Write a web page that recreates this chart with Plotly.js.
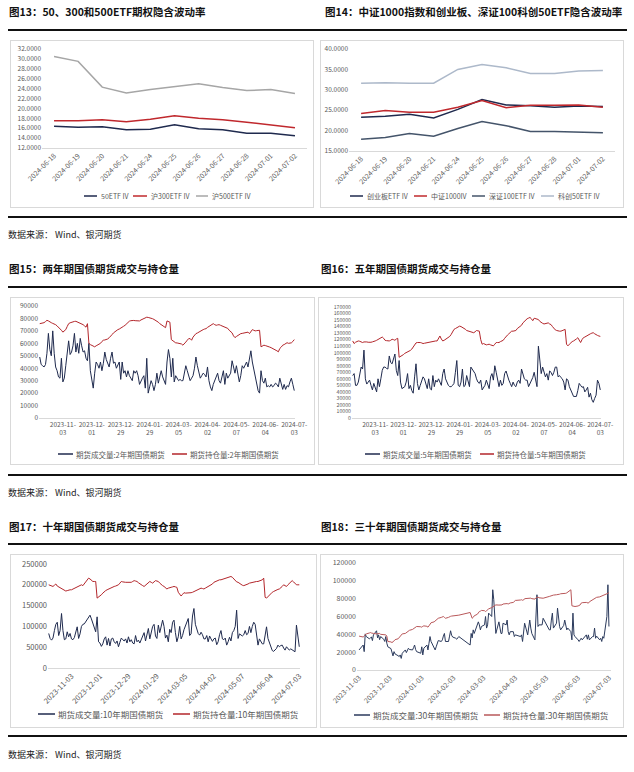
<!DOCTYPE html>
<html>
<head>
<meta charset="utf-8">
<script src="https://cdn.plot.ly/plotly-2.35.2.min.js"></script>
<style>
  html, body { margin:0; padding:0; background:#fff; }
  body { width:634px; height:772px; position:relative; overflow:hidden; font-family:"Noto Sans CJK SC","Noto Sans",sans-serif; }
  .ttl { position:absolute; font-size:10.5px; font-weight:bold; color:#111; white-space:nowrap; line-height:1; }
  .rule { position:absolute; height:1.5px; background:#111; }
  .src { position:absolute; font-size:9px; color:#222; white-space:nowrap; line-height:1; }
  .box { position:absolute; border:1px solid #d9d9d9; box-sizing:border-box; background:#fff; }
</style>
</head>
<body>
<div class="ttl" style="left:9px;top:7px;">图13：50、300和500ETF期权隐含波动率</div>
<div class="ttl" style="left:325px;top:7px;">图14：中证1000指数和创业板、深证100科创50ETF隐含波动率</div>
<div class="rule" style="left:8px;top:29px;width:619px;"></div>
<div class="box" id="c13"></div>
<div class="box" id="c14"></div>
<div class="rule" style="left:8px;top:216px;width:619px;"></div>
<div class="src" style="left:8px;top:230px;">数据来源：&nbsp;Wind、银河期货</div>

<div class="ttl" style="left:9px;top:264px;">图15：两年期国债期货成交与持仓量</div>
<div class="ttl" style="left:321px;top:264px;">图16：五年期国债期货成交与持仓量</div>
<div class="rule" style="left:8px;top:286px;width:619px;"></div>
<div class="box" id="c15"></div>
<div class="box" id="c16"></div>
<div class="rule" style="left:8px;top:474px;width:619px;"></div>
<div class="src" style="left:8px;top:488px;">数据来源：&nbsp;Wind、银河期货</div>

<div class="ttl" style="left:9px;top:522px;">图17：十年期国债期货成交与持仓量</div>
<div class="ttl" style="left:321px;top:522px;">图18：三十年期国债期货成交与持仓量</div>
<div class="rule" style="left:8px;top:543px;width:619px;"></div>
<div class="box" id="c17"></div>
<div class="box" id="c18"></div>
<div class="rule" style="left:8px;top:735px;width:619px;"></div>
<div class="src" style="left:8px;top:750px;">数据来源：&nbsp;Wind、银河期货</div>

<script>
// ---------- data: implied volatility ----------
const ivDates = ['2024-06-18','2024-06-19','2024-06-20','2024-06-21','2024-06-24','2024-06-25','2024-06-26','2024-06-27','2024-06-28','2024-07-01','2024-07-02'];
const iv50 = [16.4,16.2,16.3,15.7,15.8,16.7,15.9,15.7,15.0,15.0,14.5];
const iv300 = [17.5,17.5,17.7,17.3,17.8,18.5,18.0,17.7,17.2,16.6,16.1];
const iv500 = [30.5,29.5,24.3,23.1,23.8,24.4,25.0,24.2,23.6,23.8,23.0];
const ivCyb = [23.3,23.5,24.0,23.1,25.2,27.6,26.3,26.1,25.7,26.0,25.9];
const ivZz1000 = [24.2,24.9,24.5,24.5,25.7,27.4,25.6,26.2,26.2,26.3,25.7];
const ivSz100 = [17.9,18.3,19.3,18.6,20.5,22.2,21.2,19.8,19.8,19.7,19.5];
const ivKc50 = [31.6,31.7,31.6,31.6,35.0,36.2,35.4,34.0,34.0,34.6,34.7];

// ---------- data: trading calendar ----------
const startLong = '2023-10-12';
const start30 = '2023-11-03';
const endDate = '2024-07-03';
const holidays = ['2024-01-01','2024-02-09','2024-02-12','2024-02-13','2024-02-14','2024-02-15','2024-02-16','2024-04-04','2024-04-05','2024-05-01','2024-05-02','2024-05-03','2024-06-10'];
const tickDatesCat = ['2023-11-03','2023-12-01','2023-12-29','2024-01-29','2024-03-05','2024-04-02','2024-05-07','2024-06-04','2024-07-03'];
const tickDates30 = ['2023-11-03','2023-12-03','2024-01-03','2024-02-03','2024-03-03','2024-04-03','2024-05-03','2024-06-03','2024-07-03'];

// ---------- data: volumes / open interest (thousand lots) ----------
const vol2k = [49,43,42,41,43,52,68,55,50,70,52,41,38,33,32,48,29,32,42,51,
62,51,53,58,68,53,60,52,64,58,53,54,48,46,60,38,30,24,36,45,
43,40,45,38,44,53,47,44,41,48,53,44,45,40,43,45,31,45,36,38,
33,38,34,32,30,38,36,38,34,27,30,32,34,24,48,20,25,30,27,22,
27,36,28,33,38,33,30,27,45,55,48,33,48,29,34,32,30,31,30,30,
36,42,38,33,30,32,34,40,49,42,36,32,34,36,35,33,41,30,25,22,
27,30,34,36,30,28,33,38,27,36,32,34,36,46,42,36,42,35,29,34,
42,40,43,45,41,47,54,45,39,36,27,22,20,38,30,28,32,25,26,25,
27,25,26,28,27,25,32,28,23,27,23,26,25,29,32,27,22];
const oi2k = [75.8,76,76.3,76.6,77.5,78.5,78,77,76.6,76,75.8,75,74,73,71.5,70.5,69,70,71,73.5,
75.8,76.5,77,77.3,77.6,77.7,77.2,76.6,76.2,75.8,75,74,73,75.8,60,59,58.5,57.5,57.2,58,
58.5,59.5,60,61.5,62.5,62.7,63,63.5,64.5,65.5,67,68.4,69.5,70.5,71,71.5,72.5,73.2,73.7,74.5,
75.8,76.8,77.8,78.2,78.5,78.4,78.2,78,78,78,78.8,79.5,80,80.6,81,80.8,80.6,80.2,79.8,79.2,
78.5,78,77,75.8,75,74.5,73.5,72.6,78,77.5,77,63,62,61,60.4,60.3,60.2,60,59.5,58.5,
59.5,61,62.5,63.8,63.8,62.5,65,66.5,67.8,68.3,69,70,71,71,71.5,71.8,72.8,73.7,74.5,75,
75.8,75,74.5,74.8,75,74.5,74,73.7,73,72.6,72,70.5,69.5,68.4,66,64.6,65.5,66.5,67,67.8,
68,68.4,68.8,69,69,67.8,69,71,70.5,70,70.2,70.5,70.5,57.2,57.8,58.5,58.2,58,57.7,57,
56.5,56,55.5,54.5,54,53.2,55.9,57,58.5,59,60,60.5,60,60,60.4,61.5,63];

const vol5k = [65,68,50,50,55,70,78,75,104,60,52,55,58,50,43,53,45,40,60,48,
60,73,78,78,76,75,95,85,83,90,98,73,65,88,55,45,46,48,55,68,
45,50,42,38,63,83,53,43,50,58,63,60,50,45,60,45,43,65,48,58,
55,60,55,50,68,75,60,55,50,48,48,50,53,70,88,50,48,55,75,48,
50,65,55,48,78,75,72,68,60,55,53,58,43,46,50,58,50,45,63,68,
58,80,70,58,48,58,50,53,68,72,63,58,53,48,55,50,48,55,58,53,
75,68,60,58,58,48,53,57,62,70,60,48,110,93,68,78,70,63,68,58,
72,70,65,70,78,78,63,65,62,60,55,43,60,58,48,43,38,33,33,33,
42,53,50,47,48,40,43,47,32,38,28,24,30,35,58,53,43];
const oi5k = [118,114,116,117,118,117.5,116.5,115.6,116.5,117,116.5,116,115.6,116,116.6,117,118,119,120.6,122,
123,124,122,119,118.5,118,118,119,120.6,120,119,121,122,93,94,95.5,97,99,100,101,
102,103.5,105.5,109,113,115,115.6,116,115.6,115,114,114.5,115,115.6,116.5,117,117.5,118,118,118,
118,121,125.6,121,118,119,120.6,122,123,125,128,132,135.7,137,138,139.5,140.7,140,139,138,
136,134,133.5,133,132,131,130.6,132,134,133.5,133,120,113,114,113,112,112.5,113,112,111,
110.5,113,115.6,115.6,115.6,117,118,119,122,125.6,127,129,131,133,133,133.5,134,137,139,140.7,
142,145.7,148,150.8,152,153,154,152,149,152.8,152,151,150.8,148,145.7,145,144,144.5,145,145.7,
144,143,140,137,135,134,133,133,133,134,135,135.7,113,110.5,113,115.6,117,118,119,121,
123,119,115.6,120,123,124,125.6,126.5,128,129,130,130.6,129,127,126.5,125.6,125];

const vol10k = [83,71,67,72,90,105,110,78,90,131,90,68,70,87,75,83,70,68,73,85,
99,71,82,100,105,106,112,115,123,127,118,108,98,87,123,63,60,52,58,70,
75,55,71,53,70,72,63,59,65,51,62,72,68,65,70,60,75,63,68,60,
58,78,63,67,60,70,80,85,65,79,95,70,85,100,105,77,71,103,85,100,
115,100,72,79,63,93,85,110,115,85,63,75,100,70,78,92,100,107,119,78,
82,125,143,105,91,83,79,86,80,70,70,78,63,77,70,64,70,72,56,63,
80,90,70,68,72,55,63,74,65,85,90,100,139,71,82,80,77,80,90,80,
83,100,85,100,110,105,79,55,70,65,58,58,75,99,71,60,53,42,40,44,
47,55,51,54,55,48,43,51,47,43,46,43,40,39,103,80,51];
const oi10k = [200,198,197,196,199,202,197,195,192,190,188,186,185,186,188,188,188,190,192,193,
195,196,198,200,198,203,208,212,216,214,211,208,208,208,168,170,172,176,180,184,
186,188,190,192,194,195,196,197,198,200,204,208,207,206,206,206,206,206,206,208,
210,209,208,205,202,200,198,196,199,202,205,208,206,204,207,210,209,208,204,200,
198,196,193,190,192,194,194,195,196,195,194,182,176,173,177,181,180,180,180,181,
181,182,184,186,188,190,192,192,191,190,192,194,196,197,198,202,206,208,210,211,
212,212,213,214,215,216,218,219,220,218,214,210,207,206,203,200,199,198,199,200,
202,204,205,206,207,208,208,208,209,210,212,216,170,168,172,176,180,182,184,186,
188,189,190,192,196,200,198,196,200,204,208,210,207,204,200,200,200];

const vol30k = [22.5,26,28,20.6,40.5,37.5,35,36,37,33,39.4,44,36,39.4,34,37.5,34.5,32,37.5,30,
26,24,20.6,15.8,20.6,18,16,15,16.9,13,18.8,22.5,19.5,22.5,24.4,23,22.5,25,28,23,
20.6,18.8,26,16.9,24.4,28,22.5,30,37.5,32,26,22.5,26,30,33,32,33.8,38,41,32,
32,38,44,39,37,35.6,34.5,36,37.5,28,41,36,45,41,50,54,50.6,45,48.8,50.6,
60,47,50.6,63.8,60,90,78.8,50.6,41,54,48.8,41,41,52.5,50.6,56,43,39.4,43,43,
37.5,39.4,37.5,39.4,32,41,52.5,39.4,50.6,56,47,41,33.8,63.8,84.4,48.8,50.6,50.6,58,45,
45,56,63.8,47,52.5,69.4,56,48.8,45,50,56,50.6,45,47,43,33.8,63.8,39.4,37.5,33.8,
32,33.8,35.6,33.8,39.4,34.5,39.4,33.8,37.5,37.5,47,35.6,38,33.8,35.6,32,37.5,35.6,60,95.6,48.8];
const oi30k = [38,37.5,37,38,40,40.5,41.5,42,41.5,41,41,40.5,40.5,41,41,40,39.4,39.4,39.4,38,
32,31.5,30.8,31.5,33,34,35,36.5,38.5,39.5,40.5,41,42,43,43.8,44.5,45.5,46.5,47,48,
48.8,48.5,48,49,49.5,49,48,49.5,52,53,54,55,55.5,57,58,59,59.5,60,59,58,
59,60,60.2,60.5,60.6,60.8,61,61.2,61.5,64.5,61,58,59,60.8,62.5,64.5,65.6,66,66.8,66.5,
65.6,66.5,67.5,68.5,70,71,72,73,73,72.8,72.8,73,73,74,75,74.5,74,74.5,75.2,75.8,
77,78,78.5,78.8,78.2,78.5,80,80.6,80.6,80.6,80.6,80,79.5,81,81.8,81.8,81,80,80.5,82.5,
83,83,83.5,84,84.4,84.4,84.5,85,85.5,85.5,85.5,86,86.5,87.5,90,72,71.5,71,71.2,71.8,
72,73,75,75.5,75.8,75.5,75,76.5,78.5,79.5,80.5,81,81.5,82,82.5,83,83.5,84.2,85,86,87];

// ---------- helpers ----------
function tradingDays(s, e) {
  const out = [];
  const d = new Date(s + 'T00:00:00Z');
  const end = new Date(e + 'T00:00:00Z');
  while (d <= end) {
    const wd = d.getUTCDay();
    const iso = d.toISOString().slice(0, 10);
    if (wd !== 0 && wd !== 6 && holidays.indexOf(iso) < 0) out.push(iso);
    d.setUTCDate(d.getUTCDate() + 1);
  }
  return out;
}
const k = a => a.map(v => v * 1000);
const datesLong = tradingDays(startLong, endDate);
const dates30 = tradingDays(start30, endDate);

const FONT = '"Noto Sans CJK SC","Noto Sans",sans-serif';
const TXT = '#595959';
const NAVY = '#1f2a4e';
const RED = '#b3262b';
const cfg = {displayModeBar:false, staticPlot:true};

function line(x, y, name, color, width) {
  return {type:'scatter', mode:'lines', x:x, y:y, name:name, line:{color:color, width:width}, hoverinfo:'skip'};
}

// spec: box (page px), margins, axes, legend entries (page px: line start/end, text start), legend y, font sizes
function chart(id, spec, traces) {
  const el = document.getElementById(id);
  const b = spec.box;
  Object.assign(el.style, {left:b[0]+'px', top:b[1]+'px', width:b[2]+'px', height:b[3]+'px'});
  const W = b[2] - 2, H = b[3] - 2;
  const [ml, mr, mt, mb] = spec.m;
  const pw = W - ml - mr, ph = H - mt - mb;
  const px = x => (x - b[0] - 1 - ml) / pw;
  const py = y => (H - mb - (y - b[1] - 1)) / ph;
  const shapes = [], ann = [];
  spec.leg.forEach((e, i) => {
    const yy = py(spec.legY);
    shapes.push({type:'line', xref:'paper', yref:'paper', x0:px(e[0]), x1:px(e[1]), y0:yy, y1:yy,
                 line:{color:traces[i].line.color, width:Math.max(1.5, traces[i].line.width)}});
    ann.push({xref:'paper', yref:'paper', x:px(e[2]), y:yy, xanchor:'left', yanchor:'middle',
              showarrow:false, text:traces[i].name, font:{family:FONT, size:spec.legFont, color:TXT}});
  });
  const layout = {
    width:W, height:H,
    margin:{l:ml, r:mr, t:mt, b:mb, pad:0},
    paper_bgcolor:'rgba(0,0,0,0)', plot_bgcolor:'rgba(0,0,0,0)',
    font:{family:FONT, size:7, color:TXT},
    showlegend:false,
    shapes:shapes, annotations:ann,
    xaxis:Object.assign({showgrid:false, zeroline:false, showline:true, linecolor:'#d9d9d9', linewidth:1,
      ticks:'', tickfont:{family:FONT, size:spec.xFont, color:TXT}, automargin:false, fixedrange:true}, spec.xa),
    yaxis:Object.assign({showgrid:false, zeroline:false, showline:false, ticks:'',
      tickfont:{family:FONT, size:spec.yFont, color:TXT}, automargin:false, fixedrange:true}, spec.ya)
  };
  Plotly.newPlot(el, traces, layout, cfg);
}

// ---------- 图13 ----------
chart('c13', {box:[10,40,304,168], m:[31,6,8,59], xFont:7, yFont:6.5, legFont:7, legY:196,
  leg:[[84,97,99],[133,147,149],[196,208,210]],
  xa:{type:'category', range:[-0.5, 10.5], tickangle:-45},
  ya:{range:[12, 32], dtick:2, tickformat:'.4f'}}, [
  line(ivDates, iv50, '50ETF IV', NAVY, 1.5),
  line(ivDates, iv300, '沪300ETF IV', '#c0282d', 1.5),
  line(ivDates, iv500, '沪500ETF IV', '#a6a6a6', 1.5)
]);

// ---------- 图14 ----------
chart('c14', {box:[320,40,304,168], m:[28,8,8,56], xFont:7, yFont:6.5, legFont:7, legY:196,
  leg:[[350,363,365],[414,427,429],[472,485,487],[541,554,556]],
  xa:{type:'category', range:[-0.5, 10.5], tickangle:-45},
  ya:{range:[15, 40], dtick:5, tickformat:'.4f'}}, [
  line(ivDates, ivCyb, '创业板ETF IV', NAVY, 1.5),
  line(ivDates, ivZz1000, '中证1000IV', '#c0282d', 1.5),
  line(ivDates, ivSz100, '深证100ETF IV', '#44546a', 1.5),
  line(ivDates, ivKc50, '科创50ETF IV', '#adb9ca', 1.5)
]);

// ---------- 图15 / 16 / 17 (category axis of trading days) ----------
const wrapText = tickDatesCat.map(d => d.slice(0, 8) + '<br>' + d.slice(8));
function catX(extra) {
  return Object.assign({type:'category', range:[-0.5, datesLong.length - 0.5],
    tickmode:'array', tickvals:tickDatesCat}, extra);
}
chart('c15', {box:[10,297,305,168], m:[28,19,8,46], xFont:6.5, yFont:6.5, legFont:7.5, legY:454,
  leg:[[58,73,74],[172,187,188]],
  xa:catX({ticktext:wrapText, tickangle:0}),
  ya:{range:[0, 90000], dtick:10000, tickformat:'d'}}, [
  line(datesLong, k(vol2k), '期货成交量:2年期国债期货', NAVY, 1),
  line(datesLong, k(oi2k), '期货持仓量:2年期国债期货', RED, 1)
]);

chart('c16', {box:[318,297,306,168], m:[33,22,9,46], xFont:6.5, yFont:5.2, legFont:7.5, legY:454,
  leg:[[365,380,381],[480,494,495]],
  xa:catX({ticktext:wrapText, tickangle:0}),
  ya:{range:[0, 170000], dtick:10000, tickformat:'d'}}, [
  line(datesLong, k(vol5k), '期货成交量:5年期国债期货', NAVY, 1),
  line(datesLong, k(oi5k), '期货持仓量:5年期国债期货', RED, 1)
]);

chart('c17', {box:[10,554,307,174], m:[37,16,9,59], xFont:7.5, yFont:7.5, legFont:8.5, legY:714,
  leg:[[38,55,56],[173,190,191]],
  xa:catX({ticktext:tickDatesCat, tickangle:-45}),
  ya:{range:[0, 250000], dtick:50000, tickformat:'d'}}, [
  line(datesLong, k(vol10k), '期货成交量:10年期国债期货', NAVY, 1),
  line(datesLong, k(oi10k), '期货持仓量:10年期国债期货', RED, 1)
]);

// ---------- 图18 (date axis) ----------
chart('c18', {box:[320,554,304,174], m:[36,12,8,57], xFont:7, yFont:7, legFont:8.5, legY:715,
  leg:[[354,370,371],[484,500,501]],
  xa:{type:'date', range:['2023-11-01', '2024-07-05'], tickmode:'array', tickvals:tickDates30,
      ticktext:tickDates30, tickangle:-45},
  ya:{range:[0, 120000], dtick:20000, tickformat:'d'}}, [
  line(dates30, k(vol30k), '期货成交量:30年期国债期货', '#2b3a5c', 1),
  line(dates30, k(oi30k), '期货持仓量:30年期国债期货', '#b9585a', 1)
]);
</script>
</body>
</html>
